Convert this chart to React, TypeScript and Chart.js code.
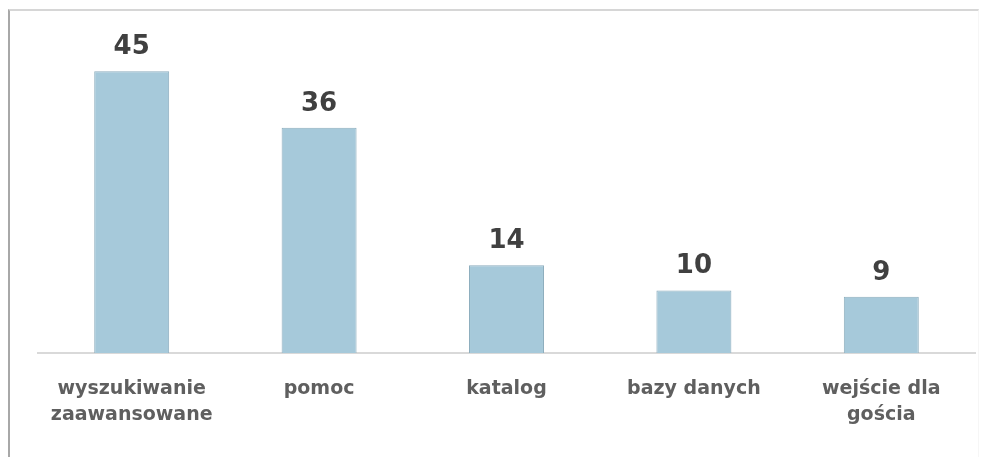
import React, { useEffect, useRef } from "react";
import { Chart, registerables } from "chart.js";

Chart.register(...registerables);

const categories: string[][] = [
  ["wyszukiwanie", "zaawansowane"],
  ["pomoc"],
  ["katalog"],
  ["bazy danych"],
  ["wejście dla", "gościa"],
];
const values: number[] = [45, 36, 14, 10, 9];

const valueLabels = {
  id: "valueLabels",
  afterDatasetsDraw(chart: any) {
    const ctx = chart.ctx;
    const meta = chart.getDatasetMeta(0);
    ctx.save();
    ctx.font = "bold 26px 'DejaVu Sans', sans-serif";
    ctx.fillStyle = "#404040";
    ctx.textAlign = "center";
    ctx.textBaseline = "alphabetic";
    meta.data.forEach((bar: any, i: number) => {
      ctx.fillText(String(chart.data.datasets[0].data[i]), bar.x, bar.y - 17);
    });
    ctx.restore();
  },
};

export default function App() {
  const ref = useRef<HTMLCanvasElement | null>(null);
  useEffect(() => {
    if (!ref.current) return;
    const chart = new Chart(ref.current, {
      type: "bar",
      data: {
        labels: categories,
        datasets: [
          {
            data: values,
            backgroundColor: "#a6c9da",
            borderColor: "#8cadbd",
            borderWidth: 1,
            barPercentage: 0.4,
            categoryPercentage: 1,
          },
        ],
      },
      options: {
        animation: false,
        responsive: false,
        maintainAspectRatio: false,
        layout: { padding: { left: 38, right: 9, top: 40, bottom: 0 } },
        plugins: { legend: { display: false }, tooltip: { enabled: false } },
        scales: {
          y: { display: false, min: 0, max: 50 },
          x: {
            afterFit: (s: any) => {
              s.height = 104;
            },
            grid: { display: false, drawTicks: false },
            border: { display: true, color: "#d9d9d9", width: 2 },
            ticks: {
              padding: 23,
              color: "#5f5f5f",
              font: { family: "'DejaVu Sans', sans-serif", size: 19, weight: "bold", lineHeight: 1.37 },
              maxRotation: 0,
              autoSkip: false,
            },
          },
        },
      },
      plugins: [valueLabels],
    });
    return () => chart.destroy();
  }, []);
  return (
    <div style={{ position: "absolute", left: 0, top: 0, width: 984, height: 457, background: "#fff" }}>
      <div
        style={{
          position: "absolute",
          left: 8,
          top: 9,
          width: 968,
          height: 460,
          borderLeft: "2px solid #a8a8a8",
          borderTop: "2px solid #d6d6d6",
          borderRight: "1px solid #f6f6f6",
        }}
      />
      <canvas ref={ref} width={984} height={457} style={{ position: "absolute", left: 0, top: 0 }} />
    </div>
  );
}
